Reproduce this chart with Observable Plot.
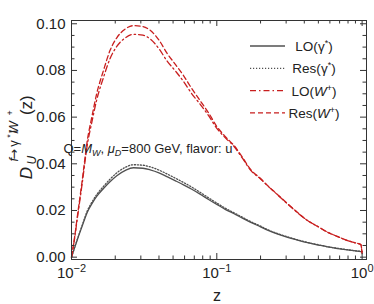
<!DOCTYPE html>
<html><head><meta charset="utf-8">
<script src="https://cdn.jsdelivr.net/npm/d3@7"></script>
<script src="https://cdn.jsdelivr.net/npm/@observablehq/plot@0.6"></script>
<style>body{margin:0;background:#fff;} svg{display:block;}</style>
</head><body><div id="chart"></div>
<script>
const zGrid = [0.01, 0.0105, 0.011, 0.0118, 0.0129, 0.0138, 0.0149, 0.0166, 0.0184, 0.0205, 0.0235, 0.0267, 0.031, 0.0348, 0.040, 0.0453, 0.052, 0.059, 0.0673, 0.0767, 0.0878, 0.1, 0.115, 0.1315, 0.15, 0.1713, 0.2, 0.2234, 0.26, 0.307, 0.36, 0.421, 0.5, 0.578, 0.68, 0.794, 0.9, 0.98, 1.0];
const gammaLO = [0, 0.0040, 0.0077, 0.0130, 0.0195, 0.0228, 0.0260, 0.0294, 0.0323, 0.0349, 0.0372, 0.0383, 0.0381, 0.0374, 0.0361, 0.0345, 0.0327, 0.0310, 0.0291, 0.0270, 0.0247, 0.0226, 0.0204, 0.0186, 0.0167, 0.0149, 0.0130, 0.0116, 0.0100, 0.0085, 0.0073, 0.0062, 0.0052, 0.0044, 0.0037, 0.0031, 0.0027, 0.0024, 0.0023];
const gammaRes = [0, 0.0041, 0.0079, 0.0134, 0.0201, 0.0235, 0.0268, 0.0303, 0.0334, 0.0361, 0.0385, 0.0396, 0.0394, 0.0387, 0.0373, 0.0357, 0.0338, 0.0320, 0.0300, 0.0278, 0.0254, 0.0232, 0.0209, 0.0190, 0.0171, 0.0152, 0.0133, 0.0118, 0.0102, 0.0087, 0.0074, 0.0063, 0.0053, 0.0045, 0.0038, 0.0032, 0.0027, 0.0025, 0.0024];
const wLO = [0, 0.0080, 0.0172, 0.0308, 0.0488, 0.0578, 0.0673, 0.0770, 0.0850, 0.0903, 0.0940, 0.0955, 0.0951, 0.0935, 0.0893, 0.0842, 0.0797, 0.0753, 0.0700, 0.0656, 0.0606, 0.0552, 0.0510, 0.0474, 0.0424, 0.0372, 0.0335, 0.0306, 0.0269, 0.0228, 0.0190, 0.0157, 0.0130, 0.0107, 0.0088, 0.0071, 0.0061, 0.0054, 0.0015];
const wRes = [0, 0.0085, 0.0180, 0.0320, 0.0507, 0.0600, 0.0700, 0.0800, 0.0885, 0.0940, 0.0978, 0.0992, 0.0988, 0.0972, 0.0930, 0.0875, 0.0825, 0.0778, 0.0722, 0.0671, 0.0618, 0.0560, 0.0515, 0.0478, 0.0428, 0.0375, 0.0337, 0.0307, 0.0270, 0.0229, 0.0191, 0.0157, 0.0130, 0.0107, 0.0088, 0.0071, 0.0061, 0.0054, 0.0015];

const xMajor = [0.01, 0.1, 1];
const xMinor = [0.02,0.03,0.04,0.05,0.06,0.07,0.08,0.09,0.2,0.3,0.4,0.5,0.6,0.7,0.8,0.9];
const yMajor = [0, 0.02, 0.04, 0.06, 0.08, 0.10];
const yMinor = [0.005,0.01,0.015,0.025,0.03,0.035,0.045,0.05,0.055,0.065,0.07,0.075,0.085,0.09,0.095];

const FONT = "'Liberation Sans', Arial, sans-serif";
const GRAY = "#505050", RED = "#c81e1e";
const W = 374, H = 304, ML = 71, MR = 8, MT = 20, MB = 45;
const PW = W - ML - MR, PH = H - MT - MB;

const mk = arr => zGrid.map((z, i) => ({z, v: arr[i]}));
const lineOpts = {x: "z", y: "v", curve: "monotone-x", strokeWidth: 1.3};

const svg = Plot.plot({
  width: W, height: H,
  marginLeft: ML, marginRight: MR, marginTop: MT, marginBottom: MB,
  style: {fontFamily: FONT, background: "#fff"},
  x: {type: "log", domain: [0.01, 1.072], axis: null},
  y: {domain: [-0.001, 0.1014], axis: null},
  marks: [
    Plot.line(mk(gammaLO), {...lineOpts, stroke: GRAY}),
    Plot.line(mk(gammaRes), {...lineOpts, stroke: GRAY, strokeDasharray: "1.2,1.8"}),
    Plot.line(mk(wLO), {...lineOpts, stroke: RED, strokeDasharray: "6,3,1.5,3"}),
    Plot.line(mk(wRes), {...lineOpts, stroke: RED, strokeDasharray: "5,3"}),
    Plot.tickX(xMajor, {x: d => d, insetTop: PH - 6, stroke: "#333"}),
    Plot.tickX(xMajor, {x: d => d, insetBottom: PH - 6, stroke: "#333"}),
    Plot.tickX(xMinor, {x: d => d, insetTop: PH - 3.5, stroke: "#333"}),
    Plot.tickX(xMinor, {x: d => d, insetBottom: PH - 3.5, stroke: "#333"}),
    Plot.tickY(yMajor, {y: d => d, insetRight: PW - 6, stroke: "#333"}),
    Plot.tickY(yMajor, {y: d => d, insetLeft: PW - 6, stroke: "#333"}),
    Plot.tickY(yMinor, {y: d => d, insetRight: PW - 3.5, stroke: "#333"}),
    Plot.tickY(yMinor, {y: d => d, insetLeft: PW - 3.5, stroke: "#333"}),
    Plot.frame({stroke: "#333", strokeWidth: 1}),
    Plot.text(yMajor, {y: d => d, frameAnchor: "left", dx: -6, textAnchor: "end", text: d => d3.format(".2f")(d), fontSize: 15, fill: "#222"}),
    Plot.text(xMajor, {x: d => d, frameAnchor: "bottom", dy: 18, lineAnchor: "bottom", text: d => "10^" + Math.round(Math.log10(d)), fontSize: 15, fill: "#222"}),
    Plot.text(["z"], {frameAnchor: "bottom", dx: -2, dy: 41, lineAnchor: "bottom", text: d => d, fontSize: 16, fill: "#222"})
  ]
});

document.getElementById("chart").appendChild(svg);

const S = d3.select(svg);
S.selectAll("text").each(function() {
  if (!this.textContent.includes("^")) return;
  const [b, e] = this.textContent.split("^");
  const t = d3.select(this);
  t.text(b);
  t.append("tspan").attr("dy", "-6").attr("font-size", 11).text(e.replace("-", "\u2212"));
});

// y-axis label (rotated): local x runs upward on screen
const gy = S.append("g").attr("transform", "translate(32,173) rotate(-90)")
  .attr("font-family", FONT).attr("fill", "#222");
const tD = gy.append("text").attr("x", 0).attr("y", 0).attr("font-style", "italic").attr("font-size", 17).text("D");
const wD = tD.node().getBBox().width;
gy.append("text").attr("x", wD + 0.5).attr("y", 4).attr("font-style", "italic").attr("font-size", 12).text("U");
const supParts = [
  {t: "f", italic: true},
  {t: "\u2192", fam: "'DejaVu Sans', sans-serif", size: 12.5},
  {t: "\u03b3"},
  {t: "*", small: true},
  {t: "/"},
  {t: "W", italic: true},
  {t: "+", small: true}
];
let px = wD + 1;
supParts.forEach(p => {
  const el = gy.append("text").attr("x", px).attr("y", p.small ? -19 : -14)
    .attr("font-size", p.small ? 9 : (p.size || 13)).text(p.t);
  if (p.italic) el.attr("font-style", "italic");
  if (p.fam) el.attr("font-family", p.fam);
  px += el.node().getBBox().width + 0.4;
});
gy.append("text").attr("x", px + 2).attr("y", 0).attr("font-size", 17).text("(z)");

// annotation
const ann = S.append("text").attr("x", 148).attr("y", 153).attr("font-family", FONT).attr("font-size", 13).attr("fill", "#222");
ann.append("tspan").text("Q=");
ann.append("tspan").attr("font-style", "italic").text("M");
ann.append("tspan").attr("font-style", "italic").attr("font-size", 9).attr("dy", 3).text("W");
ann.append("tspan").attr("dy", -3).text(", ");
ann.append("tspan").attr("font-style", "italic").text("\u03bc");
ann.append("tspan").attr("font-style", "italic").attr("font-size", 9).attr("dy", 3).text("D");
ann.append("tspan").attr("dy", -3).text("=800 GeV, flavor: u");

// legend
const legend = [
  {label: ["LO(", "\u03b3", "*", ")"], italic: false, stroke: GRAY, dash: null},
  {label: ["Res(", "\u03b3", "*", ")"], italic: false, stroke: GRAY, dash: "1.2,1.8"},
  {label: ["LO(", "W", "+", ")"], italic: true, stroke: RED, dash: "6,3,1.5,3"},
  {label: ["Res(", "W", "+", ")"], italic: true, stroke: RED, dash: "5,3"}
];
const gl = S.append("g").attr("font-family", FONT).attr("font-size", 13.5).attr("fill", "#222");
legend.forEach((d, i) => {
  const y = 46 + i * 22.3;
  const ln = gl.append("line").attr("x1", 250).attr("x2", 285).attr("y1", y).attr("y2", y)
    .attr("stroke", d.stroke).attr("stroke-width", 1.3);
  if (d.dash) ln.attr("stroke-dasharray", d.dash);
  const t = gl.append("text").attr("x", 314).attr("y", y + 5).attr("text-anchor", "middle");
  t.append("tspan").text(d.label[0]);
  const m = t.append("tspan").text(d.label[1]);
  if (d.italic) m.attr("font-style", "italic");
  t.append("tspan").attr("font-size", 9).attr("dy", -5).text(d.label[2]);
  t.append("tspan").attr("dy", 5).text(d.label[3]);
});
</script>
</body></html>
